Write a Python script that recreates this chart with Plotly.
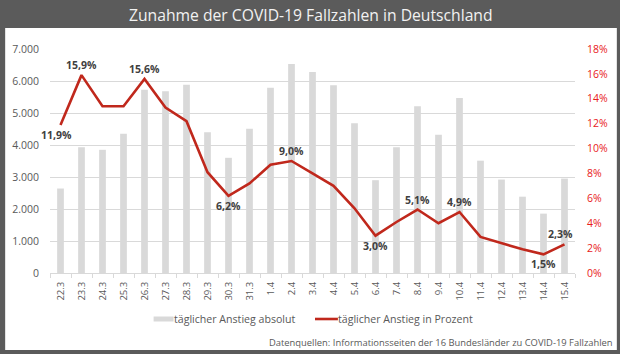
import plotly.graph_objects as go

dates = ["22.3", "23.3", "24.3", "25.3", "26.3", "27.3", "28.3", "29.3", "30.3", "31.3",
         "1.4", "2.4", "3.4", "4.4", "5.4", "6.4", "7.4", "8.4", "9.4", "10.4",
         "11.4", "12.4", "13.4", "14.4", "15.4"]
absolute = [2640, 3930, 3850, 4350, 5730, 5680, 5885, 4400, 3600, 4510,
            5790, 6530, 6280, 5865, 4680, 2900, 3930, 5210, 4320, 5470,
            3510, 2920, 2385, 1855, 2950]
percent = [11.9, 15.9, 13.4, 13.4, 15.6, 13.3, 12.2, 8.1, 6.2, 7.2,
           8.7, 9.0, 8.0, 7.0, 5.2, 3.0, 4.1, 5.1, 4.0, 4.9,
           2.9, 2.4, 1.9, 1.5, 2.3]
# label placement: +1 above, -1 below, 0 none
label_side = [-1, 1, 0, 0, 1, 0, 0, 0, -1, 0,
              0, 1, 0, 0, 0, -1, 0, 1, 0, 1,
              0, 0, 0, -1, 1]
label_dx = [-4, 0, 0, 0, 0, 0, 0, 0, 0, 0,
            0, 0, 0, 0, 0, 0, 0, 0, 0, 0,
            0, 0, 0, 0, -4]
pct_ticks = list(range(0, 19, 2))

title = "Zunahme der COVID-19 Fallzahlen in Deutschland"
source = "Datenquellen: Informationsseiten der 16 Bundesländer zu COVID-19 Fallzahlen"
name_abs = "täglicher Anstieg absolut"
name_pct = "täglicher Anstieg in Prozent"

FONT = "Open Sans"
GREY = "#595959"
BAR = "#d9d9d9"
LINE = "#c0281c"
RED = "#e8201a"
FRAME = "#5b5b5b"

idx = list(range(len(dates)))

fig = go.Figure()
fig.add_trace(go.Bar(x=idx, y=absolute, name=name_abs,
                     marker=dict(color=BAR, line=dict(width=0)), yaxis="y"))
fig.add_trace(go.Scatter(x=idx, y=percent, name=name_pct,
                         mode="lines", line=dict(color=LINE, width=2.6), yaxis="y2"))

annotations = []
for i, p, s, dx in zip(idx, percent, label_side, label_dx):
    if s == 0:
        continue
    annotations.append(dict(x=i, y=p, xref="x", yref="y2",
                            text=f"{p:.1f}%".replace(".", ","),
                            showarrow=False, yshift=10 * s, xshift=dx,
                            font=dict(family=FONT, size=10.5, color="#404040", weight="bold")))

W, H = 620, 354
L, R, T, B = 48, 45, 49, 81
pw, ph = W - L - R, H - T - B


def px(x):
    return (x - L) / pw


def py(y):
    return (H - B - y) / ph


annotations.append(dict(xref="paper", yref="paper", x=px(W / 2), y=py(15),
                        text=title, showarrow=False, xanchor="center", yanchor="middle",
                        font=dict(family=FONT, size=15.7, color="#f2f2f2")))
annotations.append(dict(xref="paper", yref="paper", x=px(615), y=py(342),
                        text=source, showarrow=False, xanchor="right", yanchor="middle",
                        font=dict(family=FONT, size=9.4, color=GREY)))
# custom legend texts
annotations.append(dict(xref="paper", yref="paper", x=px(172), y=py(319),
                        text=name_abs, showarrow=False, xanchor="left", yanchor="middle",
                        xshift=-2, font=dict(family=FONT, size=10.6, color=GREY)))
annotations.append(dict(xref="paper", yref="paper", x=px(337), y=py(319),
                        text=name_pct, showarrow=False, xanchor="left", yanchor="middle",
                        xshift=-2, font=dict(family=FONT, size=10.6, color=GREY)))

shapes = [dict(type="rect", xref="paper", yref="paper", layer="below",
               x0=px(3), x1=px(617), y0=py(350), y1=py(28),
               fillcolor="white", line=dict(width=0)),
          dict(type="rect", xref="paper", yref="paper",
               x0=px(152), x1=px(172), y0=py(321.5), y1=py(316.5),
               fillcolor=BAR, line=dict(width=0)),
          dict(type="line", xref="paper", yref="paper",
               x0=px(314), x1=px(337), y0=py(319), y1=py(319),
               line=dict(color=LINE, width=2.6))]

fig.update_layout(
    width=W, height=H,
    margin=dict(l=L, r=R, t=T, b=B, pad=0),
    paper_bgcolor=FRAME, plot_bgcolor="rgba(0,0,0,0)",
    separators=",.",
    font=dict(family=FONT, size=11, color=GREY),
    bargap=0.68,
    showlegend=False,
    xaxis=dict(range=[-0.5, len(dates) - 0.5], tickvals=idx, ticktext=dates,
               showgrid=False, showline=True, linecolor=BAR, linewidth=1,
               ticks="", tickangle=-90, zeroline=False, ticklabelstandoff=4,
               tickfont=dict(family=FONT, size=9.5, color=GREY)),
    xaxis2=dict(range=[0, len(dates)], tickvals=list(range(len(dates) + 1)),
                overlaying="x", side="bottom", showticklabels=False, showgrid=False,
                ticks="outside", ticklen=4, tickcolor=BAR, zeroline=False, showline=False),
    yaxis=dict(range=[0, 7000], tickvals=list(range(0, 7001, 1000)), tickformat=",d",
               showgrid=True, gridcolor=BAR, gridwidth=1, zeroline=False,
               showline=False, ticks="", ticklabelstandoff=10,
               tickfont=dict(family=FONT, size=10.5, color=GREY)),
    yaxis2=dict(range=[0, 18], tickvals=pct_ticks, ticktext=[f"{v}%" for v in pct_ticks],
                overlaying="y", side="right", showgrid=False, zeroline=False,
                showline=False, ticks="", ticklabelstandoff=11,
                tickfont=dict(family=FONT, size=10.5, color=RED)),
    annotations=annotations,
    shapes=shapes,
)
# invisible trace to activate the tick-boundary axis
fig.add_trace(go.Scatter(x=[0], y=[0], xaxis="x2", yaxis="y", mode="markers",
                         marker=dict(opacity=0), showlegend=False, hoverinfo="skip"))

fig.write_html("out.html")
